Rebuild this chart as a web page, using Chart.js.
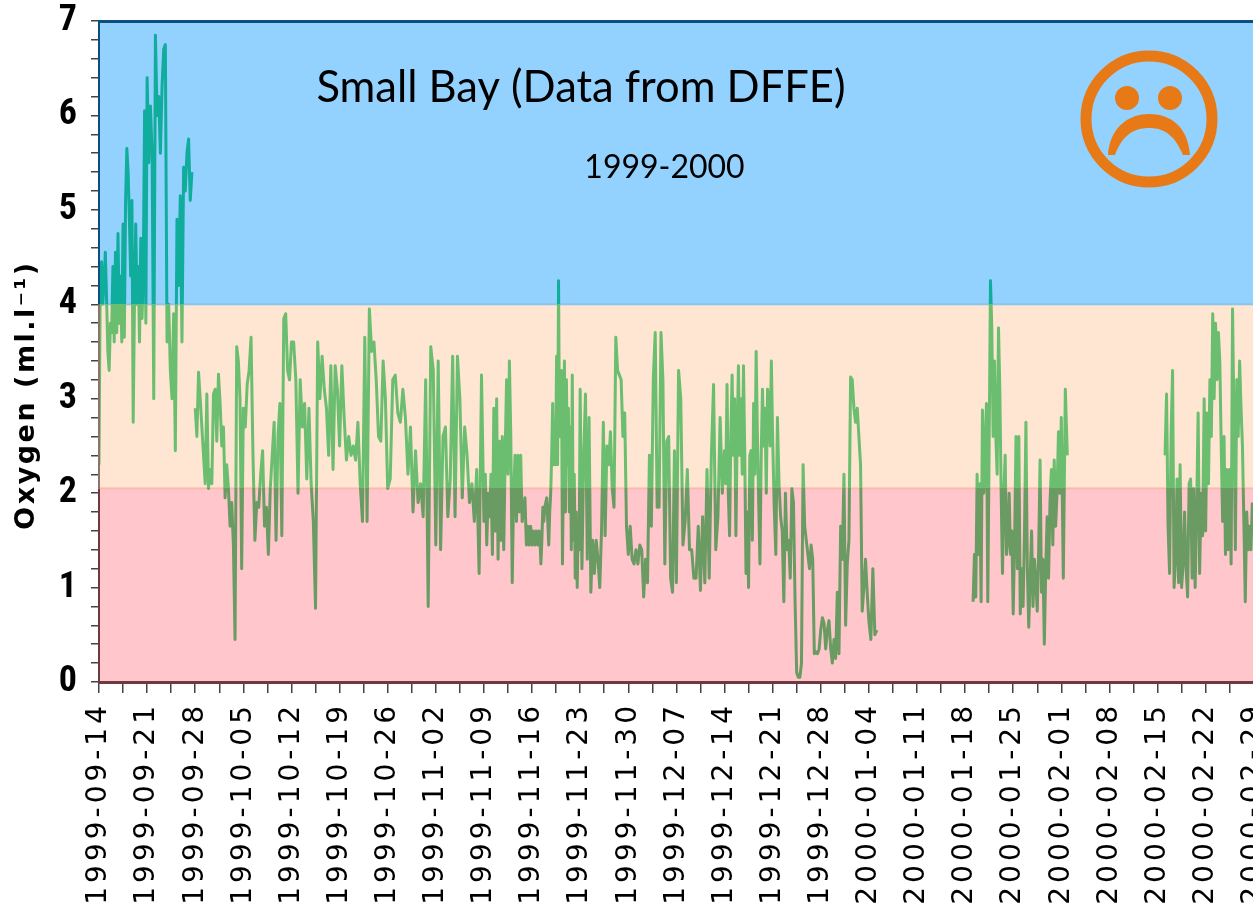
<!DOCTYPE html>
<html>
<head>
<meta charset="utf-8">
<title>Small Bay oxygen</title>
<script src="https://cdn.jsdelivr.net/npm/chart.js@4"></script>
<style>
  html, body { margin: 0; background: #fff; overflow: hidden; width: 1253px; height: 909px; }
  canvas { display: block; }
</style>
</head>
<body>
<canvas id="oxygenChart" width="1400" height="1000"></canvas>
<script>
// tick labels, one per week
const weekLabels = [
  '1999-09-14', '1999-09-21', '1999-09-28', '1999-10-05', '1999-10-12', '1999-10-19', '1999-10-26',
  '1999-11-02', '1999-11-09', '1999-11-16', '1999-11-23', '1999-11-30', '1999-12-07', '1999-12-14',
  '1999-12-21', '1999-12-28', '2000-01-04', '2000-01-11', '2000-01-18', '2000-01-25', '2000-02-01',
  '2000-02-08', '2000-02-15', '2000-02-22', '2000-02-29', '2000-03-07', '2000-03-14'
];

// oxygen readings per week, evenly spaced inside each week. null = no data
const week00 = [2.3, 4.3, 4.45, 4.0, 4.23, 4.55, 4.05, 3.5, 3.3, 3.8, 3.7, 4.4, 3.6, 4.55, 3.7, 4.75, 3.8, 4.3, 3.6, 4.85, 3.65, 5.1, 5.65, 5.4, 4.9, 4.3, 5.1, 2.75, 4.0, 4.85, 4.0, 4.4, 3.6, 4.7, 3.85, 4.4, 6.05, 3.8];
const week01 = [6.4, 5.5, 6.1, 5.6, 3.0, 6.85, 6.0, 6.2, 5.6, 6.3, 6.7, 6.75, 3.6, 4.0, 3.3, 3.0, 3.9, 2.45, 4.9, 4.2, 5.15, 3.6, 5.45, 5.2, 5.6, 5.75, 5.1, 5.4, null];
const week02 = [2.9, 2.6, 3.28, 3.0, 2.7, 2.4, 2.1, 3.05, 2.05, 2.25, 2.1, 3.05, 3.1, 2.55, 3.26, 2.95, 2.5, 2.7, 1.95, 2.3, 2.05, 1.65, 1.9, 1.45, 0.45, 3.55, 3.4, 3.0, 1.2];
const week03 = [2.9, 2.7, 3.15, 3.3, 3.65, 2.4, 1.5, 1.9, 1.85, 2.2, 2.45, 1.65, 1.85, 1.35, 2.05, 2.4, 2.75, 1.5, 2.6, 2.95, 1.55, 3.85, 3.9, 3.3, 3.2];
const week04 = [3.6, 3.6, 3.2, 2.0, 3.2, 2.7, 2.95, 2.15, 2.9, 2.1, 1.7, 0.78, 3.6, 3.0, 3.45, 3.1, 2.9, 2.4, 3.35, 2.25, 3.35, 3.1];
const week05 = [2.5, 3.35, 2.8, 2.35, 2.6, 2.4, 2.5, 2.35, 2.75, 2.1, 1.7, 3.65, 1.7, 3.95, 3.5, 3.6, 3.2, 2.6, 2.55, 3.4, 3.0];
const week06 = [2.05, 2.15, 3.2, 3.25, 2.85, 2.75, 3.1, 2.8, 2.2, 2.7, 1.8, 2.45, 1.9, 2.1, 1.75, 3.2, 0.8, 3.55, 3.3];
const week07 = [1.45, 3.4, 1.4, 2.6, 2.7, 1.75, 2.15, 3.45, 1.75, 3.45, 3.0, 1.95, 2.7, 2.4, 1.9, 2.1, 1.7, 2.25, 1.15, 3.25];
const week08 = [1.7, 2.2, 1.45, 2.0, 1.75, 2.2, 1.35, 2.9, 1.6, 3.0, 1.3, 2.55, 1.5, 2.6, 1.4, 2.4, 3.2, 2.2, 3.4, 2.6, 1.05, 2.0, 2.4, 1.7, 2.4, 1.8, 2.4, 1.7, 1.8, 1.95, 1.45, 1.65, 1.45, 1.65];
const week09 = [1.45, 1.6, 1.5, 1.45, 1.6, 1.55, 1.45, 1.6, 1.55, 1.25, 1.5, 1.85, 1.7, 1.85, 1.9, 1.95, 1.7, 1.45, 1.8, 2.0, 2.4, 2.95, 2.3, 2.6, 2.3, 3.45, 2.3, 4.25, 2.6, 3.1, 3.3, 1.25, 2.3, 3.4, 1.8, 3.2, 2.3, 2.9, 1.8, 2.7, 1.4, 3.25, 1.5, 2.2, 1.1, 1.8, 1.0, 1.7, 1.4];
const week10 = [3.1, 1.2, 2.4, 3.05, 1.3, 2.8, 0.95, 1.5, 1.15, 1.5, 1.3, 1.0, 1.6, 2.75, 1.55, 2.5, 2.3, 2.65, 2.05, 1.85, 3.65, 3.3, 3.25, 3.2, 2.6, 2.85, 1.65];
const week11 = [1.35, 1.65, 1.3, 1.25, 1.4, 1.25, 1.45, 1.4, 0.9, 1.3, 1.05, 2.4, 1.65, 3.2, 3.7, 1.85, 1.85, 3.7, 3.2, 1.25, 2.55, 2.6, 1.1, 0.95, 2.45];
const week12 = [1.05, 3.3, 3.0, 1.45, 1.7, 2.25, 1.4, 1.4, 1.1, 1.1, 1.65, 0.97, 1.75, 1.05, 2.25, 1.1, 2.4, 3.15, 1.4, 1.75, 2.8, 2.0];
const week13 = [2.45, 2.1, 3.15, 2.0, 1.55, 2.6, 3.25, 2.4, 3.0, 1.55, 2.6, 3.35, 2.4, 3.0, 2.2, 3.35, 2.4, 1.15, 1.8, 1.0, 2.4, 2.45, 1.5, 2.95, 2.2, 3.5, 2.6, 1.9, 1.25, 2.4, 3.1, 2.5, 2.9, 2.0, 3.1, 3.0, 2.5, 3.4];
const week14 = [2.6, 1.85, 1.35, 2.8, 2.1, 1.75, 1.6, 0.85, 2.0, 1.4, 1.5, 1.1, 2.05, 1.9, 0.85, 0.1, 0.05, 0.05, 0.2, 2.3, 1.65, 1.5, 1.35, 1.2, 1.45, 1.3, 0.3, 0.32, 0.3, 0.35];
const week15 = [0.55, 0.68, 0.62, 0.35, 0.55, 0.65, 0.35, 0.2, 0.45, 0.25, 0.95, 0.3, 1.65, 1.3, 2.2, 0.6, 1.25, 1.5, 3.23, 3.2, 2.9, 2.75, 2.9, 2.6, 2.3, 0.75, 1.0, 1.3, 0.95];
const week16 = [0.65, 0.45, 1.2, 0.5, 0.55, null, null, null, null, null, null, null, null, null, null, null, null, null, null, null, null, null, null, null];
const week17 = [null];
const week18 = [null, null, null, null, null, null, 0.85, 1.35, 0.9, 2.2, 1.35, 2.1, 0.85, 2.88, 2.0, 2.5, 2.95, 0.85, 2.5, 4.25, 3.75, 2.6, 3.4, 2.6, 2.2, 3.75, 3.1, 2.0, 1.15, 2.0, 2.4, 1.35, 1.5, 2.0, 1.35, 1.6];
const week19 = [0.72, 1.5, 2.6, 1.2, 2.6, 0.72, 1.2, 0.8, 1.6, 2.75, 1.2, 0.58, 1.1, 1.6, 0.8, 1.3, 1.05, 0.75, 1.4, 2.35, 0.95, 1.3, 0.4, 1.2, 1.75, 1.1, 1.9, 2.25, 1.45, 2.35, 1.65, 2.0, 2.65, 2.0];
const week20 = [2.8, 1.1, 3.1, 2.4, null, null, null, null, null, null, null, null, null, null, null, null, null, null, null, null, null, null, null, null];
const week21 = [null];
const week22 = [null, null, null, null, null, 2.4, 3.05, 1.65, 1.15, 2.6, 3.3, 1.0, 1.3, 2.15, 1.05, 2.3, 1.0, 1.25, 1.8, 1.2, 0.9, 2.1, 2.15, 1.1, 2.05, 1.0, 1.8, 2.85, 1.15, 2.0, 1.55, 3.0];
const week23 = [1.6, 2.85, 2.1, 3.2, 2.6, 3.9, 3.0, 3.8, 3.2, 3.7, 3.4, 2.5, 1.7, 2.6, 1.35, 2.25, 1.4, 2.25, 1.25, 3.95, 2.8, 1.4, 3.2, 2.6, 3.4, 2.9, 2.5, 1.7, 0.85, 1.8, 1.4, 1.65, 1.4, 1.9];

const allWeeks = [
  week00, week01, week02, week03, week04, week05, week06, week07, week08, week09, week10, week11,
  week12, week13, week14, week15, week16, week17, week18, week19, week20, week21, week22, week23
];

// band edges in ml/l, and the colours for each band
const bandEdges = [0, 2.05, 4, 7];
const bandFill = ['#FFC7CC', '#FEE6D2', '#93D2FF'];
const bandEdgeLine = ['#FDB8AE', '#8CC5EA'];
const bandAxis = ['#6F3A3F', '#8A7568', '#0B4F7E'];
const lineColors = ['#699B63', '#6BBD70', '#10AC9C'];

const points = [];
allWeeks.forEach((week, w) => {
  week.forEach((value, i) => {
    points.push({ x: (w + i / week.length) * 7, y: value });
  });
});

// the line changes colour where it crosses a band
function bandGradient(context) {
  const chart = context.chart;
  const area = chart.chartArea;
  if (!area) return lineColors[1];
  const y = chart.scales.y;
  const grad = chart.ctx.createLinearGradient(0, y.getPixelForValue(7), 0, y.getPixelForValue(0));
  for (let i = lineColors.length - 1; i >= 0; i--) {
    const top = (7 - bandEdges[i + 1]) / 7;
    const bottom = (7 - bandEdges[i]) / 7;
    grad.addColorStop(top, lineColors[i]);
    grad.addColorStop(bottom, lineColors[i]);
  }
  return grad;
}

const bandsPlugin = {
  id: 'bands',
  beforeDraw(chart) {
    chart.ctx.letterSpacing = '4px';
  },
  beforeDatasetsDraw(chart) {
    const { ctx, chartArea, scales } = chart;
    ctx.save();
    bandFill.forEach((color, i) => {
      const top = scales.y.getPixelForValue(bandEdges[i + 1]);
      const bottom = scales.y.getPixelForValue(bandEdges[i]);
      ctx.fillStyle = color;
      ctx.fillRect(chartArea.left, top, chartArea.width, bottom - top);
    });
    bandEdgeLine.forEach((color, i) => {
      ctx.fillStyle = color;
      ctx.fillRect(chartArea.left, scales.y.getPixelForValue(bandEdges[i + 1]) - 1, chartArea.width, 2);
    });
    ctx.restore();
  },
  afterDatasetsDraw(chart) {
    const { ctx, chartArea, scales } = chart;
    ctx.save();
    ctx.letterSpacing = '0px';
    // axis lines take the tint of the band behind them
    bandAxis.forEach((color, i) => {
      const top = scales.y.getPixelForValue(bandEdges[i + 1]);
      const bottom = scales.y.getPixelForValue(bandEdges[i]);
      ctx.fillStyle = color;
      ctx.fillRect(chartArea.left - 1, top, 2, bottom - top);
    });
    ctx.fillStyle = bandAxis[2];
    ctx.fillRect(chartArea.left - 1, chartArea.top - 1, chartArea.width, 3);
    ctx.fillStyle = bandAxis[0];
    ctx.fillRect(chartArea.left - 1, chartArea.bottom - 1, chartArea.width, 3);

    ctx.fillStyle = '#000';
    ctx.textAlign = 'center';
    ctx.textBaseline = 'alphabetic';
    ctx.font = '43.5px Lato';
    ctx.fillText('Small Bay (Data from DFFE)', 581, 102);
    ctx.font = '32px Lato';
    ctx.fillText('1999-2000', 664.5, 178);

    // y axis title sits below the middle of the axis, so chart.js can't place it
    ctx.save();
    ctx.translate(27, 395);
    ctx.rotate(-Math.PI / 2);
    ctx.textBaseline = 'middle';
    ctx.letterSpacing = '2.5px';
    ctx.font = 'bold 27px "DejaVu Sans"';
    ctx.fillText('Oxygen (ml.l\u207B\u00B9)', 0, 0);
    ctx.restore();

    // sad face
    ctx.strokeStyle = '#E77A17';
    ctx.fillStyle = '#E77A17';
    ctx.lineWidth = 11;
    ctx.beginPath();
    ctx.arc(1149, 119, 63, 0, Math.PI * 2);
    ctx.stroke();
    ctx.beginPath();
    ctx.arc(1127, 98, 12, 0, Math.PI * 2);
    ctx.arc(1170, 98, 12, 0, Math.PI * 2);
    ctx.fill();
    ctx.beginPath();
    ctx.moveTo(1108, 155);
    ctx.bezierCurveTo(1110, 126, 1130, 114, 1149, 114);
    ctx.bezierCurveTo(1170, 114, 1188, 126, 1190, 155);
    ctx.lineTo(1183, 155);
    ctx.bezierCurveTo(1175, 136, 1165, 128, 1149, 128);
    ctx.bezierCurveTo(1133, 128, 1122, 136, 1115, 155);
    ctx.closePath();
    ctx.fill();
    ctx.restore();
  }
};

new Chart(document.getElementById('oxygenChart').getContext('2d'), {
  type: 'line',
  data: {
    datasets: [{
      label: 'Oxygen',
      data: points,
      borderColor: bandGradient,
      borderWidth: 3,
      borderJoinStyle: 'round',
      pointRadius: 0,
      tension: 0,
      spanGaps: false
    }]
  },
  options: {
    responsive: false,
    animation: false,
    layout: { padding: { top: 21, right: 50, left: 0, bottom: 0 } },
    plugins: { legend: { display: false }, tooltip: { enabled: false } },
    scales: {
      x: {
        type: 'linear',
        min: 0,
        max: 182,
        afterFit(scale) { scale.height = 318; },
        border: { display: false },
        grid: { drawOnChartArea: false, color: '#444', tickLength: 11, lineWidth: 1.5 },
        ticks: {
          stepSize: 3.5,
          autoSkip: false,
          maxRotation: 90,
          minRotation: 90,
          padding: 9,
          color: '#000',
          font: { family: '"DejaVu Sans"', size: 28 },
          callback: (value) => (Number.isInteger(value / 7) ? weekLabels[value / 7] : '')
        }
      },
      y: {
        min: 0,
        max: 7,
        afterFit(scale) {
          scale.width = 99;
          scale.paddingTop = 0;
          scale.paddingBottom = 0;
        },
        border: { display: false },
        grid: { drawOnChartArea: false, color: '#444', tickLength: 8, lineWidth: 1.5 },
        ticks: {
          stepSize: 0.2,
          autoSkip: false,
          padding: 10,
          color: '#000',
          font: { family: '"Liberation Sans Narrow", "Roboto Condensed", "Noto Sans Condensed", "Open Sans Condensed", "Liberation Sans"', size: 36, weight: 'bold' },
          callback: (value) => {
            const rounded = Math.round(value * 1000) / 1000;
            return Number.isInteger(rounded) ? String(rounded) : '';
          }
        }
      }
    }
  },
  plugins: [bandsPlugin]
});
</script>
</body>
</html>
